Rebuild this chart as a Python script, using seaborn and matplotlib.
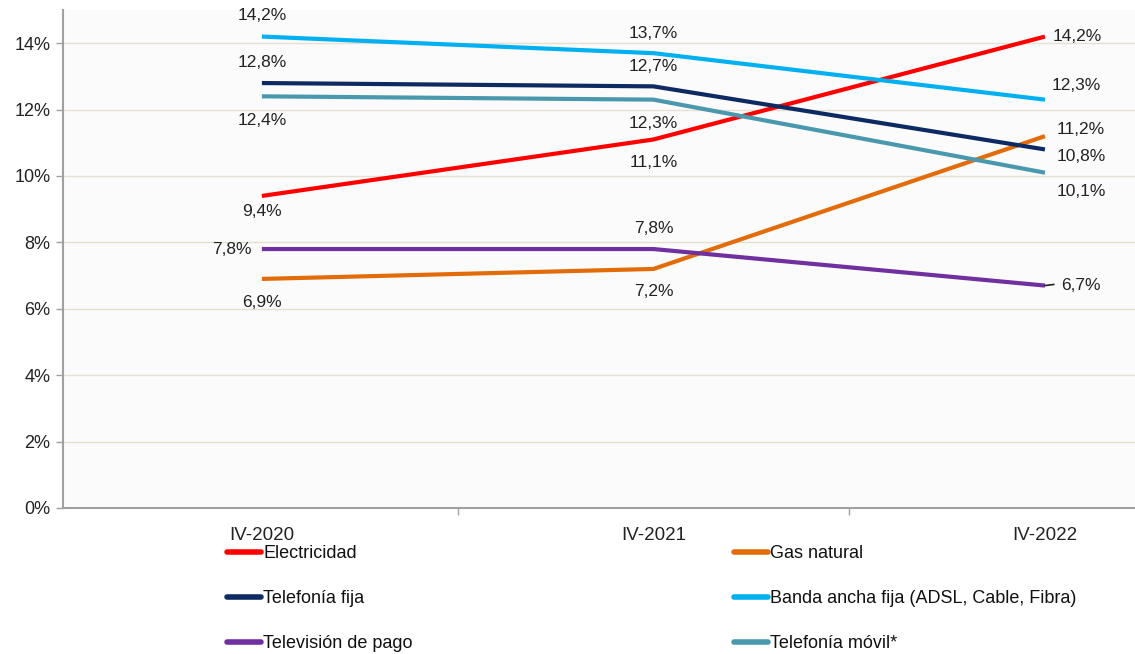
import matplotlib
matplotlib.use("Agg")
import matplotlib.pyplot as plt
import seaborn as sns
import pandas as pd
from matplotlib.ticker import FixedLocator

# Periods and series (percent)
periods = ["IV-2020", "IV-2021", "IV-2022"]
electricidad = [9.4, 11.1, 14.2]
gas_natural = [6.9, 7.2, 11.2]
telefonia_fija = [12.8, 12.7, 10.8]
banda_ancha = [14.2, 13.7, 12.3]
television_pago = [7.8, 7.8, 6.7]
telefonia_movil = [12.4, 12.3, 10.1]

series_names = [
    "Electricidad",
    "Gas natural",
    "Telefonía fija",
    "Banda ancha fija (ADSL, Cable, Fibra)",
    "Televisión de pago",
    "Telefonía móvil*",
]
series_values = [electricidad, gas_natural, telefonia_fija, banda_ancha,
                 television_pago, telefonia_movil]
colors = ["#ff0000", "#e36c0a", "#0d2a63", "#00b0f0", "#7030a0", "#4a98ae"]

rows = []
for name, vals in zip(series_names, series_values):
    for i, v in enumerate(vals):
        rows.append({"serie": name, "pos": i, "valor": v})
df = pd.DataFrame(rows)

sns.set_theme(style="white")
plt.rcParams["font.family"] = ["Liberation Sans", "DejaVu Sans"]

fig = plt.figure(figsize=(11.35, 6.54), dpi=100)
fig.patch.set_facecolor("white")
ax = fig.add_axes([63 / 1135, 1 - 508 / 654, 1 - 63 / 1135, (508 - 10) / 654])
ax.set_facecolor("#fbfbfb")

sns.lineplot(data=df, x="pos", y="valor", hue="serie", hue_order=series_names,
             palette=colors, linewidth=3.0, ax=ax, legend=False,
             solid_capstyle="butt")

ax.set_xlim(-0.508, 2.230)
ax.set_ylim(0, 15)
ax.set_yticks(range(0, 15, 2))
ax.set_yticklabels([f"{t}%" for t in range(0, 15, 2)])
ax.set_xticks(range(len(periods)))
ax.set_xticklabels(periods)
ax.xaxis.set_minor_locator(FixedLocator([0.5, 1.5]))
ax.tick_params(axis="x", which="major", length=0, labelsize=13.5, pad=14, colors="#222222")
ax.tick_params(axis="x", which="minor", length=5, width=1, color="#a0a0a0", bottom=True)
ax.tick_params(axis="y", length=5, width=1, color="#a0a0a0", left=True,
               labelsize=13, colors="#222222", pad=4)
ax.set_xlabel("")
ax.set_ylabel("")
ax.grid(axis="y", color="#e4e0d2", linewidth=1)
ax.set_axisbelow(True)
for s in ["top", "right"]:
    ax.spines[s].set_visible(False)
for s in ["left", "bottom"]:
    ax.spines[s].set_color("#a0a0a0")
    ax.spines[s].set_linewidth(1.5)

# Value labels: (series index, period index, dx px, dy px, ha)
label_pos = [
    (3, 0, 0, 21, "center"), (2, 0, 0, 21, "center"), (5, 0, 0, -24, "center"),
    (0, 0, 0, -16, "center"), (4, 0, -10, 0, "right"), (1, 0, 0, -24, "center"),
    (3, 1, 0, 20, "center"), (2, 1, 0, 20, "center"), (5, 1, 0, -24, "center"),
    (0, 1, 0, -23, "center"), (4, 1, 0, 21, "center"), (1, 1, 0, -23, "center"),
    (0, 2, 8, 0, "left"), (3, 2, 7, 14, "left"), (1, 2, 12, 7, "left"),
    (2, 2, 12, -7, "left"), (5, 2, 12, -19, "left"), (4, 2, 16, 0, "left"),
]
for si, pi, dx, dy, ha in label_pos:
    v = series_values[si][pi]
    ax.annotate(f"{v:.1f}%".replace(".", ","), xy=(pi, v),
                xytext=(dx * 0.72, dy * 0.72), textcoords="offset points",
                ha=ha, va="center", fontsize=12.5, color="#222222")

# small leader for the last pay-TV label
ax.annotate("", xy=(2, television_pago[2]), xytext=(9 * 0.72, 0.8),
            textcoords="offset points",
            arrowprops=dict(arrowstyle="-", color="#222222", lw=1.2,
                            shrinkA=0, shrinkB=0))

# Legend in two columns below the axis
handles = {name: plt.Line2D([], [], color=c, linewidth=4)
           for name, c in zip(series_names, colors)}
cols = [["Electricidad", "Telefonía fija", "Televisión de pago"],
        ["Gas natural", "Banda ancha fija (ADSL, Cable, Fibra)", "Telefonía móvil*"]]
for xpos, names in zip([227 / 1135, 734 / 1135], cols):
    leg = fig.legend([handles[n] for n in names], names, loc="upper left",
                     bbox_to_anchor=(xpos, 1 - 545 / 654), frameon=False,
                     borderpad=0, borderaxespad=0, handlelength=1.9,
                     handletextpad=0.12, labelspacing=1.55,
                     prop={"size": 13})
    for t in leg.get_texts():
        t.set_color("#111111")

fig.savefig("out.png", dpi=100, facecolor="white")
